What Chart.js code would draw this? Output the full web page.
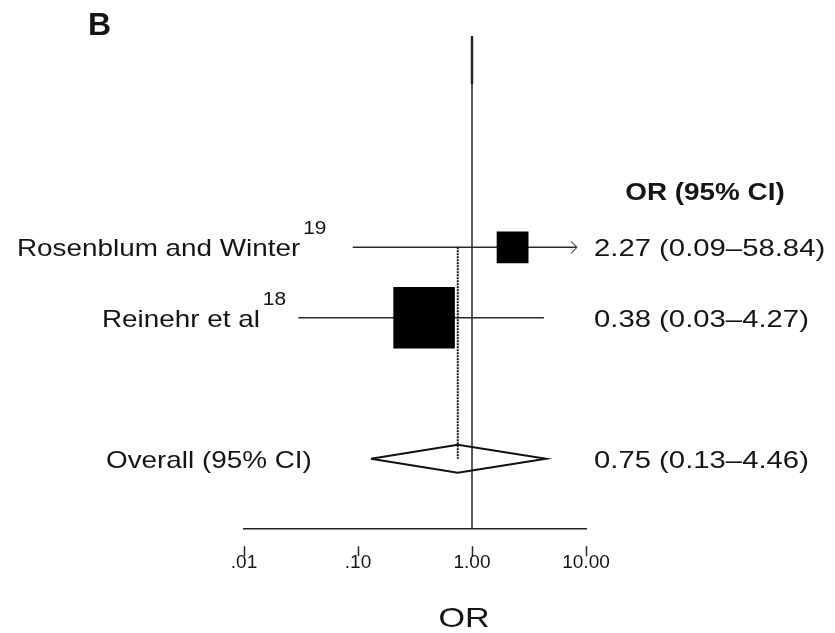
<!DOCTYPE html>
<html>
<head>
<meta charset="utf-8">
<script src="https://cdn.jsdelivr.net/npm/chart.js@4/dist/chart.umd.min.js"></script>
<style>
  html, body { margin: 0; padding: 0; background: #fff; }
  #wrap { width: 835px; height: 633px; }
</style>
</head>
<body>
<div id="wrap"><canvas id="forest" width="835" height="633"></canvas></div>
<script>
// ── Data ──────────────────────────────────────────────────
const STUDIES  = ['Rosenblum and Winter', 'Reinehr et al'];
const REFS     = ['19', '18'];
const ODDS     = [2.27, 0.38];
const LOWER    = [0.09, 0.03];
const UPPER    = [58.84, 4.27];
const ROW_Y    = [4, 3];

const OVERALL_LABEL = 'Overall (95% CI)';
const OVERALL_OR    = 0.75;
const OVERALL_LO    = 0.13;
const OVERALL_HI    = 4.46;
const OVERALL_Y     = 1;

const TICK_VALUES = [0.01, 0.1, 1, 10];
const TICK_LABELS = ['.01', '.10', '1.00', '10.00'];

// ── Style / layout constants ─────────────────────────────
const FONT = '"Liberation Sans", Arial, Helvetica, sans-serif';
const INK = '#151515';
const LINE = '#2a2a2a';
const SX = 1.16;            // horizontal stretch of the left text
const SX_R = 1.22;          // ... and of the right column
const LABEL_X = [17, 102];  // left edge of study labels
const OVERALL_X = 106;
const ARROW_INSET = 9;
const DIAMOND_H = 0.2;
const SQUARE_R = [22.5, 43.5];

Chart.defaults.font.family = FONT;

const fmt = (o, l, h) => `${o.toFixed(2)} (${l.toFixed(2)}–${h.toFixed(2)})`;

function txt(ctx, s, x, y, size, bold, sx, align) {
  ctx.save();
  ctx.font = `${bold ? 'bold ' : ''}${size}px ${FONT}`;
  ctx.fillStyle = INK;
  ctx.textBaseline = 'alphabetic';
  const w = ctx.measureText(s).width * sx;
  let x0 = x;
  if (align === 'center') x0 = x - w / 2;
  if (align === 'right') x0 = x - w;
  ctx.translate(x0, y);
  ctx.scale(sx, 1);
  ctx.textAlign = 'left';
  ctx.fillText(s, 0, 0);
  ctx.restore();
  return x0 + w;
}

// ── Plugin: texts, arrows, tick marks ────────────────────
const forestDeco = {
  id: 'forestDeco',
  afterDraw(chart) {
    const { ctx, chartArea: ca, scales: { x, y } } = chart;

    // tick marks (detached from the axis line)
    ctx.save();
    ctx.strokeStyle = LINE;
    ctx.lineWidth = 1.5;
    x.ticks.forEach(t => {
      const px = Math.round(x.getPixelForValue(t.value)) + 0.5;
      ctx.beginPath();
      ctx.moveTo(px, ca.bottom + 17);
      ctx.lineTo(px, ca.bottom + 27);
      ctx.stroke();
    });

    // arrow where the CI runs past the axis
    ctx.lineWidth = 1.1;
    ctx.strokeStyle = '#555';
    UPPER.forEach((hi, i) => {
      if (hi <= x.max) return;
      const tip = ca.right - ARROW_INSET;
      const py = y.getPixelForValue(ROW_Y[i]);
      ctx.beginPath();
      ctx.moveTo(tip - 6, py - 6);
      ctx.lineTo(tip, py);
      ctx.lineTo(tip - 6, py + 6);
      ctx.stroke();
    });

    // thicker top end of the null line
    const nx = x.getPixelForValue(1);
    ctx.strokeStyle = '#222';
    ctx.lineWidth = 2.4;
    ctx.beginPath();
    ctx.moveTo(nx, ca.top);
    ctx.lineTo(nx, ca.top + 48);
    ctx.stroke();
    ctx.restore();

    // panel letter
    txt(ctx, 'B', 88, 35, 32, true, 1, 'left');

    // header
    txt(ctx, 'OR (95% CI)', 705, 200, 24, true, SX, 'center');

    // study rows
    STUDIES.forEach((s, i) => {
      const py = y.getPixelForValue(ROW_Y[i]);
      const end = txt(ctx, s, LABEL_X[i], py + 9, 24, false, SX, 'left');
      txt(ctx, REFS[i], end + 3, py - 13, 18, false, SX, 'left');
      txt(ctx, fmt(ODDS[i], LOWER[i], UPPER[i]), ca.right + 8, py + 9, 24, false, SX_R, 'left');
    });

    // overall row
    const oy = y.getPixelForValue(OVERALL_Y);
    txt(ctx, OVERALL_LABEL, OVERALL_X, oy + 9, 24, false, SX, 'left');
    txt(ctx, fmt(OVERALL_OR, OVERALL_LO, OVERALL_HI), ca.right + 8, oy + 9, 24, false, SX_R, 'left');

    // axis title
    txt(ctx, 'OR', 464, 627, 28, false, 1.22, 'center');
  }
};

// ── Datasets ─────────────────────────────────────────────
const squares = {
  type: 'scatter',
  data: ODDS.map((o, i) => ({ x: o, y: ROW_Y[i] })),
  pointStyle: 'rect',
  pointRadius: SQUARE_R,
  pointHoverRadius: SQUARE_R,
  backgroundColor: '#000',
  borderWidth: 0,
  order: 0
};

const ciLines = STUDIES.map((s, i) => ({
  type: 'line',
  data: [{ x: LOWER[i], y: ROW_Y[i] }, { x: UPPER[i], y: ROW_Y[i] }],
  borderColor: LINE,
  borderWidth: 1.5,
  pointRadius: 0,
  clip: { left: 0, top: 0, bottom: 0, right: -ARROW_INSET },
  order: 2
}));

const nullLine = {
  type: 'line',
  data: [{ x: 1, y: 0 }, { x: 1, y: 7 }],
  borderColor: '#333',
  borderWidth: 1.6,
  pointRadius: 0,
  order: 3
};

const pooledLine = {
  type: 'line',
  data: [{ x: OVERALL_OR, y: ROW_Y[0] }, { x: OVERALL_OR, y: OVERALL_Y }],
  borderColor: '#111',
  borderWidth: 2,
  borderDash: [2, 1],
  pointRadius: 0,
  order: 1
};

const diamond = {
  type: 'line',
  data: [
    { x: OVERALL_LO, y: OVERALL_Y },
    { x: OVERALL_OR, y: OVERALL_Y + DIAMOND_H },
    { x: OVERALL_HI, y: OVERALL_Y },
    { x: OVERALL_OR, y: OVERALL_Y - DIAMOND_H },
    { x: OVERALL_LO, y: OVERALL_Y }
  ],
  borderColor: '#111',
  borderWidth: 2,
  borderJoinStyle: 'miter',
  pointRadius: 0,
  fill: false,
  order: 1
};

new Chart(document.getElementById('forest'), {
  type: 'scatter',
  data: { datasets: [squares, pooledLine, diamond, ...ciLines, nullLine] },
  options: {
    responsive: false,
    animation: false,
    events: [],
    layout: { autoPadding: false, padding: { left: 244, right: 249, top: 36, bottom: 37 } },
    plugins: { legend: { display: false }, tooltip: { enabled: false } },
    scales: {
      x: {
        type: 'logarithmic',
        min: 0.01,
        max: 10,
        afterBuildTicks: sc => { sc.ticks = TICK_VALUES.map(v => ({ value: v })); },
        grid: { display: false, drawTicks: false },
        border: { display: true, color: '#222', width: 1.6 },
        ticks: {
          padding: 22,
          maxRotation: 0,
          autoSkip: false,
          color: INK,
          font: { size: 19 },
          callback: (v, i) => TICK_LABELS[i]
        }
      },
      y: {
        type: 'linear',
        min: 0,
        max: 7,
        display: false
      }
    }
  },
  plugins: [forestDeco]
});
</script>
</body>
</html>
